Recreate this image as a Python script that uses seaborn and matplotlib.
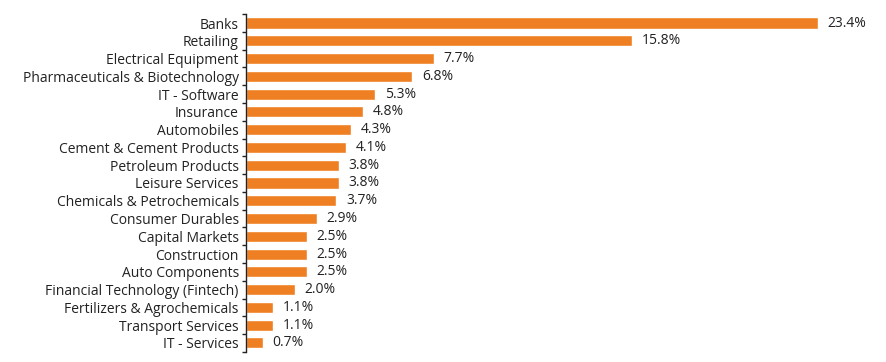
import pandas as pd
import numpy as np
import matplotlib
matplotlib.use("Agg")
import matplotlib.pyplot as plt
import seaborn as sns

# Datos del gráfico
sectors = ["Banks", "Retailing", "Electrical Equipment", "Pharmaceuticals & Biotechnology",
           "IT - Software", "Insurance", "Automobiles", "Cement & Cement Products",
           "Petroleum Products", "Leisure Services", "Chemicals & Petrochemicals",
           "Consumer Durables", "Capital Markets", "Construction", "Auto Components",
           "Financial Technology (Fintech)", "Fertilizers & Agrochemicals",
           "Transport Services", "IT - Services"]
weights = [23.4, 15.8, 7.7, 6.8, 5.3, 4.8, 4.3, 4.1, 3.8, 3.8, 3.7, 2.9, 2.5, 2.5, 2.5,
           2.0, 1.1, 1.1, 0.7]

data = pd.DataFrame({"sector": sectors, "weight": weights})

sns.set_style("white")
plt.rcParams["font.family"] = ["Open Sans", "DejaVu Sans"]

fig = plt.figure(figsize=(8.87, 3.62), dpi=100)
ax = fig.add_axes([0.277, 0.028, 0.713, 0.933])

sns.barplot(data=data, x="weight", y="sector", color="#EE7F22", saturation=1,
            width=0.62, ax=ax)

# Etiquetas de valor
for i, v in enumerate(weights):
    ax.text(v + 0.4, i, f"{v:.1f}%", va="center", ha="left", fontsize=10, color="#222222")

ax.set_xlim(0, 25.86)
ax.set_ylim(len(sectors) - 0.5, -0.5)
ax.set_xlabel("")
ax.set_ylabel("")
ax.set_xticks([])
for s in ["top", "right", "bottom"]:
    ax.spines[s].set_visible(False)
ax.spines["left"].set_color("#222222")
ax.spines["left"].set_linewidth(1)
ax.tick_params(axis="y", which="major", left=False, length=0, labelsize=10, pad=5,
               colors="#222222")
ax.set_yticks(np.arange(-0.5, len(sectors), 1), minor=True)
ax.tick_params(axis="y", which="minor", left=True, length=3, width=1, color="#222222")

plt.savefig("out.png", dpi=100)
